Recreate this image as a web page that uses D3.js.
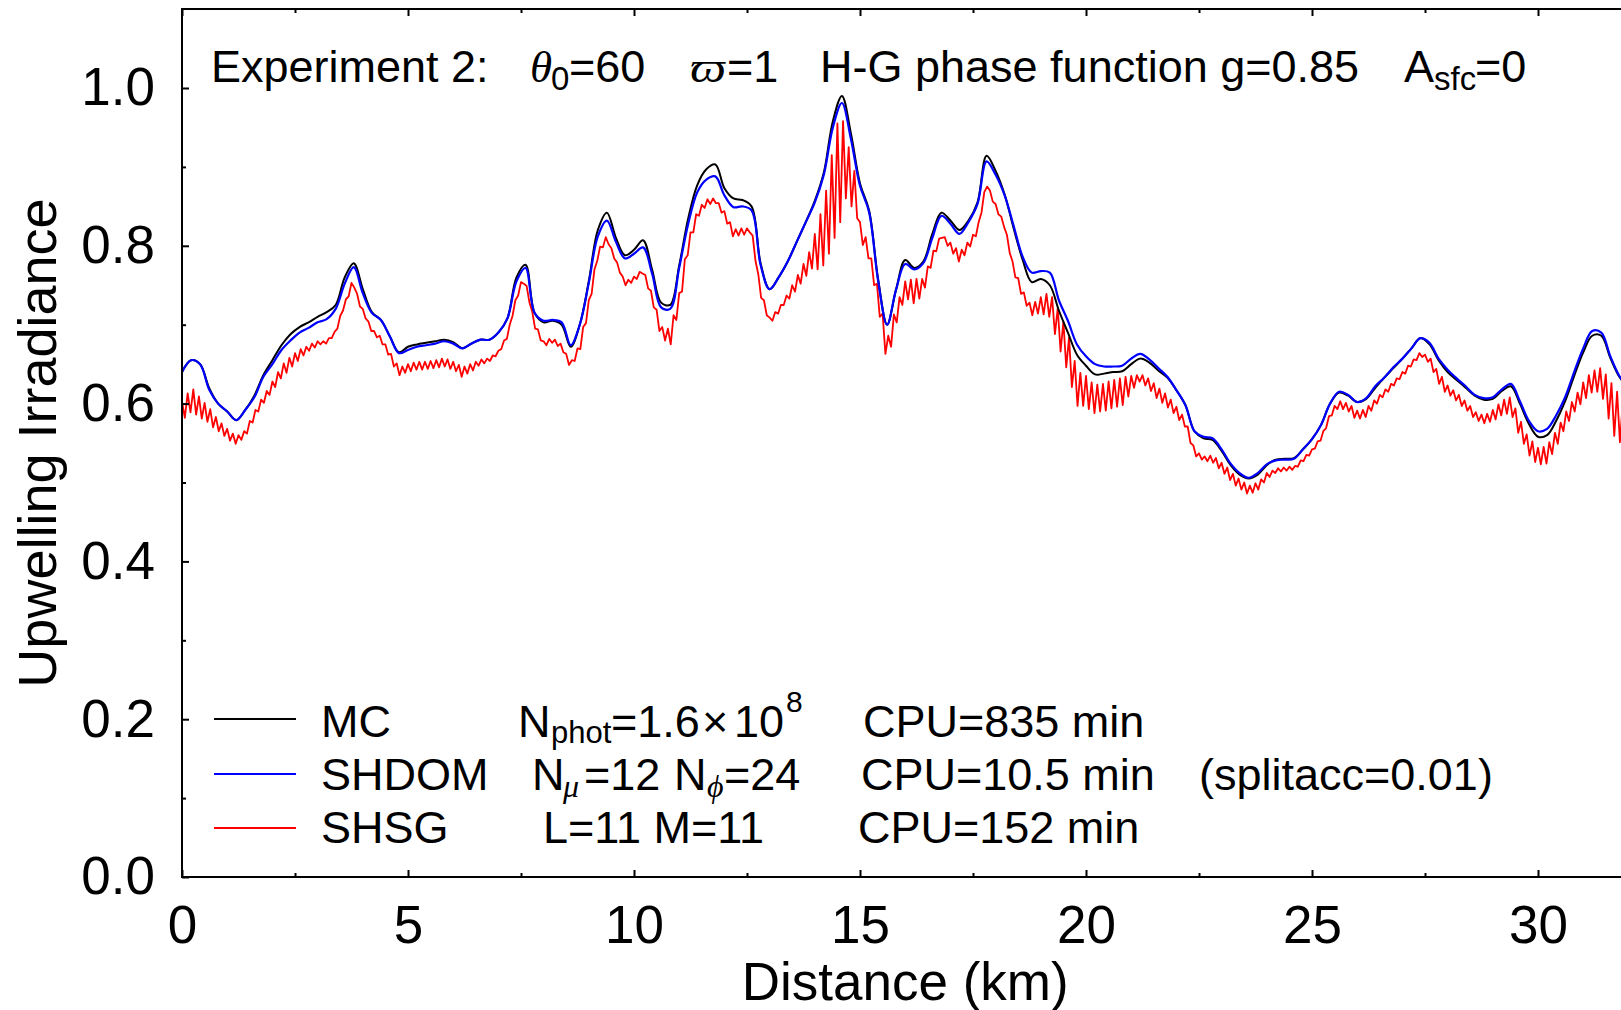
<!DOCTYPE html>
<html>
<head>
<meta charset="utf-8">
<script src="https://cdn.jsdelivr.net/npm/d3@7"></script>
<style>
html,body{margin:0;padding:0;background:#fff;}
svg{display:block;}
text{font-family:"Liberation Sans",Arial,Helvetica,sans-serif;fill:#000;}
.greek{font-family:"Liberation Serif","DejaVu Serif","Times New Roman",serif;font-style:italic;}
</style>
</head>
<body>
<svg id="chart" width="1621" height="1010"></svg>
<script>
// ---------------- DATA ----------------
// MC and SHDOM sampled every 0.2 km (0..32 km); SHSG every 1/16 km (0..32 km).
const distanceKm = d3.range(161).map(i => Math.round(i * 2) / 10);
const distanceShsgKm = d3.range(513).map(i => i / 16);

const mcIrradiance = [
  .640,.655,.650,.620,.600,.590,.579,.592,.610,.636,
  .655,.674,.688,.697,.703,.710,.716,.725,.760,.778,
  .745,.716,.706,.685,.665,.672,.675,.677,.679,.681,
  .678,.670,.676,.681,.681,.690,.708,.760,.776,.715,
  .703,.705,.700,.672,.700,.755,.820,.842,.810,.788,
  .795,.807,.770,.728,.725,.775,.835,.877,.897,.903,
  .873,.860,.858,.850,.778,.745,.760,.780,.805,.830,
  .857,.893,.958,.990,.942,.879,.845,.758,.700,.745,
  .782,.772,.780,.815,.842,.832,.820,.832,.855,.914,
  .895,.865,.822,.782,.754,.758,.750,.718,.690,.662,
  .648,.637,.638,.640,.641,.650,.657,.652,.642,.633,
  .617,.598,.565,.556,.554,.540,.522,.510,.505,.510,
  .522,.529,.530,.531,.542,.555,.573,.600,.614,.610,
  .602,.606,.620,.633,.645,.657,.670,.683,.675,.655,
  .640,.630,.620,.610,.605,.606,.616,.622,.600,.574,
  .558,.560,.578,.603,.635,.665,.686,.686,.658,.634,
  .620
];

const shdomIrradiance = [
  .640,.655,.650,.618,.600,.590,.579,.592,.608,.634,
  .650,.668,.680,.690,.696,.703,.707,.720,.752,.773,
  .740,.715,.706,.685,.664,.668,.672,.674,.676,.679,
  .676,.670,.676,.681,.681,.690,.708,.755,.772,.715,
  .705,.706,.703,.674,.700,.753,.812,.832,.805,.784,
  .790,.798,.765,.722,.720,.772,.828,.868,.884,.888,
  .864,.849,.850,.845,.776,.745,.760,.780,.805,.830,
  .855,.890,.950,.981,.935,.876,.843,.756,.700,.745,
  .777,.770,.778,.810,.838,.828,.815,.830,.853,.907,
  .890,.864,.825,.786,.766,.768,.766,.731,.705,.675,
  .660,.650,.647,.647,.648,.657,.663,.656,.645,.634,
  .617,.598,.565,.558,.556,.542,.524,.512,.506,.512,
  .523,.528,.529,.530,.542,.555,.573,.600,.615,.611,
  .602,.607,.622,.633,.646,.657,.670,.683,.677,.657,
  .643,.632,.622,.611,.607,.608,.618,.625,.603,.578,
  .565,.568,.585,.608,.640,.670,.692,.690,.660,.635,
  .620
];

const shsgIrradiance = [
  .603,.582,.613,.589,.618,.586,.609,.581,.601,.577,.593,.570,.583,.565,.575,.559,
  .568,.553,.562,.549,.560,.554,.565,.562,.578,.576,.592,.590,.605,.601,.616,.611,
  .628,.621,.640,.632,.651,.639,.658,.647,.664,.654,.669,.661,.672,.667,.676,.671,
  .679,.675,.679,.676,.683,.683,.691,.695,.711,.718,.732,.736,.753,.747,.739,.723,
  .720,.708,.704,.692,.692,.684,.686,.675,.675,.662,.663,.647,.651,.636,.647,.639,
  .650,.641,.652,.643,.653,.643,.653,.644,.654,.645,.655,.646,.657,.647,.656,.644,
  .653,.641,.649,.634,.647,.638,.650,.642,.653,.648,.656,.651,.657,.654,.661,.660,
  .667,.669,.680,.682,.700,.711,.731,.737,.754,.752,.749,.728,.716,.695,.694,.680,
  .679,.674,.682,.677,.681,.673,.676,.665,.663,.649,.655,.654,.670,.669,.697,.702,
  .731,.739,.770,.781,.799,.798,.811,.802,.797,.784,.779,.766,.761,.750,.757,.753,
  .761,.758,.767,.765,.763,.746,.743,.722,.719,.692,.697,.680,.695,.675,.712,.706,
  .740,.742,.783,.788,.817,.817,.840,.838,.852,.848,.859,.853,.860,.854,.854,.842,
  .844,.828,.830,.812,.821,.813,.822,.814,.822,.817,.813,.781,.764,.734,.731,.712,
  .709,.705,.716,.714,.725,.725,.737,.733,.750,.742,.763,.752,.777,.762,.792,.771,
  .815,.770,.840,.775,.870,.790,.915,.810,.955,.830,.958,.860,.925,.850,.895,.835,
  .830,.801,.811,.784,.784,.750,.752,.710,.714,.663,.686,.672,.713,.703,.735,.725,
  .755,.732,.757,.727,.758,.733,.758,.747,.774,.772,.794,.793,.809,.810,.811,.800,
  .804,.790,.797,.780,.795,.788,.804,.799,.814,.812,.830,.842,.868,.875,.870,.856,
  .853,.840,.837,.824,.814,.791,.780,.760,.759,.739,.741,.724,.728,.712,.729,.714,
  .735,.713,.739,.710,.735,.688,.721,.666,.704,.646,.684,.621,.654,.597,.639,.597,
  .635,.593,.627,.588,.624,.590,.625,.591,.628,.594,.630,.596,.632,.598,.634,.609,
  .635,.620,.636,.628,.636,.623,.632,.616,.626,.607,.619,.601,.613,.595,.605,.588,
  .596,.579,.586,.571,.571,.550,.547,.533,.537,.529,.533,.527,.534,.525,.531,.518,
  .525,.511,.519,.503,.511,.496,.505,.491,.500,.486,.496,.487,.499,.491,.504,.500,
  .512,.507,.515,.512,.518,.514,.519,.515,.520,.516,.521,.520,.528,.527,.535,.534,
  .542,.543,.552,.553,.565,.569,.584,.585,.597,.593,.603,.593,.601,.590,.597,.582,
  .591,.581,.592,.583,.597,.591,.604,.600,.611,.608,.618,.615,.625,.623,.632,.631,
  .640,.638,.648,.647,.656,.655,.664,.659,.662,.653,.657,.640,.644,.625,.634,.615,
  .623,.610,.617,.604,.611,.597,.604,.591,.597,.583,.589,.578,.586,.575,.587,.577,
  .592,.580,.599,.585,.605,.587,.608,.583,.594,.563,.577,.549,.561,.534,.552,.526,
  .544,.523,.545,.524,.551,.536,.563,.549,.576,.565,.590,.578,.602,.590,.614,.599,
  .627,.607,.636,.614,.642,.615,.645,.606,.637,.581,.626,.559,.615,.551,.601,.551,
  .590
];

const xTickValues = [0, 5, 10, 15, 20, 25, 30];
const xMinorTickValues = [2.5, 7.5, 12.5, 17.5, 22.5, 27.5, 32.5];
const yTickValues = [0, 0.2, 0.4, 0.6, 0.8, 1.0];
const yMinorTickValues = [0.1, 0.3, 0.5, 0.7, 0.9];

const seriesNames = ["MC", "SHDOM", "SHSG"];
const seriesColors = ["#000000", "#0000ff", "#ff0000"];

// ---------------- LAYOUT ----------------
const W = 1621, H = 1010;
const plotLeft = 182, plotBottom = 877, plotTop = 9;
const svg = d3.select("#chart");

const x = d3.scaleLinear().domain([0, 30]).range([plotLeft, 1538]);
const y = d3.scaleLinear().domain([0, 1]).range([plotBottom, 88]);

svg.append("defs").append("clipPath").attr("id", "plotclip")
  .append("rect").attr("x", plotLeft).attr("y", plotTop).attr("width", W - plotLeft).attr("height", plotBottom - plotTop);

// ---------------- LINES ----------------
const plot = svg.append("g").attr("clip-path", "url(#plotclip)");
const smoothLine = d3.line().x((d, i) => x(distanceKm[i])).y(d => y(d)).curve(d3.curveCatmullRom.alpha(0.5));
const rawLine = d3.line().x((d, i) => x(distanceShsgKm[i])).y(d => y(d));

plot.append("path").datum(shsgIrradiance).attr("d", rawLine)
  .attr("fill", "none").attr("stroke", seriesColors[2]).attr("stroke-width", 1.8).attr("stroke-linejoin", "round");
plot.append("path").datum(mcIrradiance).attr("d", smoothLine)
  .attr("fill", "none").attr("stroke", seriesColors[0]).attr("stroke-width", 2);
plot.append("path").datum(shdomIrradiance).attr("d", smoothLine)
  .attr("fill", "none").attr("stroke", seriesColors[1]).attr("stroke-width", 2.2);

// ---------------- AXES ----------------
function styleAxis(g) {
  g.select(".domain").remove();
  g.selectAll(".tick line").attr("stroke", "#000").attr("stroke-width", 2);
  g.selectAll(".tick text").attr("font-family", '"Liberation Sans",Arial,sans-serif').attr("font-size", 53).attr("fill", "#000");
}
svg.append("g").attr("transform", `translate(${plotLeft},0)`)
  .call(d3.axisLeft(y).tickValues(yTickValues).tickFormat(d3.format(".1f")).tickSizeInner(-7).tickSizeOuter(0).tickPadding(27))
  .call(styleAxis);
svg.append("g").attr("transform", `translate(${plotLeft},0)`)
  .call(d3.axisLeft(y).tickValues(yMinorTickValues).tickFormat("").tickSizeInner(-4).tickSizeOuter(0))
  .call(styleAxis);
svg.append("g").attr("transform", `translate(0,${plotBottom})`)
  .call(d3.axisBottom(x).tickValues(xTickValues).tickFormat(d3.format("d")).tickSizeInner(-7).tickSizeOuter(0).tickPadding(28))
  .call(styleAxis);
svg.append("g").attr("transform", `translate(0,${plotBottom})`)
  .call(d3.axisBottom(x).tickValues(xMinorTickValues).tickFormat("").tickSizeInner(-4).tickSizeOuter(0))
  .call(styleAxis);
svg.append("g").attr("transform", `translate(0,${plotTop})`)
  .call(d3.axisTop(x).tickValues(xTickValues).tickFormat("").tickSizeInner(-7).tickSizeOuter(0))
  .call(styleAxis);
svg.append("g").attr("transform", `translate(0,${plotTop})`)
  .call(d3.axisTop(x).tickValues(xMinorTickValues).tickFormat("").tickSizeInner(-4).tickSizeOuter(0))
  .call(styleAxis);

// frame
const frame = svg.append("g").attr("stroke", "#000").attr("stroke-width", 2).attr("fill", "none");
frame.append("line").attr("x1", plotLeft).attr("x2", plotLeft).attr("y1", plotTop).attr("y2", plotBottom + 1);
frame.append("line").attr("x1", plotLeft - 1).attr("x2", W).attr("y1", plotBottom).attr("y2", plotBottom);
frame.append("line").attr("x1", plotLeft - 1).attr("x2", W).attr("y1", plotTop).attr("y2", plotTop);

// axis titles
svg.append("text").attr("x", x(16)).attr("y", 1000).attr("text-anchor", "middle")
  .attr("font-size", 53).text("Distance (km)");
svg.append("text").attr("transform", "translate(56,443) rotate(-90)").attr("text-anchor", "middle")
  .attr("font-size", 54).text("Upwelling Irradiance");

// ---------------- ANNOTATION ----------------
const ann = svg.append("g").attr("font-size", 45);
const base = 82;
ann.append("text").attr("x", 211).attr("y", base).text("Experiment 2:");
ann.append("text").attr("class", "greek").attr("x", 530).attr("y", base).text("θ");
ann.append("text").attr("x", 551).attr("y", base + 8).attr("font-size", 33).text("0");
ann.append("text").attr("x", 569).attr("y", base).text("=60");
ann.append("text").attr("class", "greek").attr("x", 690).attr("y", base)
  .attr("textLength", 36).attr("lengthAdjust", "spacingAndGlyphs").text("ϖ");
ann.append("text").attr("x", 727).attr("y", base).text("=1");
ann.append("text").attr("x", 820).attr("y", base).text("H-G phase function g=0.85");
ann.append("text").attr("x", 1404).attr("y", base).text("A");
ann.append("text").attr("x", 1434).attr("y", base + 8).attr("font-size", 33).text("sfc");
ann.append("text").attr("x", 1475).attr("y", base).text("=0");

// ---------------- LEGEND ----------------
const leg = svg.append("g").attr("font-size", 45);
const rowLine = [719, 774, 828];
const rowBase = [737, 790, 843];
seriesNames.forEach((name, i) => {
  leg.append("line").attr("x1", 214).attr("x2", 296).attr("y1", rowLine[i]).attr("y2", rowLine[i])
    .attr("stroke", seriesColors[i]).attr("stroke-width", 2);
  leg.append("text").attr("x", 321).attr("y", rowBase[i]).text(name);
});
// row 1
leg.append("text").attr("x", 518).attr("y", rowBase[0]).text("N");
leg.append("text").attr("x", 551).attr("y", rowBase[0] + 6).attr("font-size", 31).text("phot");
leg.append("text").attr("x", 611).attr("y", rowBase[0]).text("=1.6");
leg.append("text").attr("x", 702).attr("y", rowBase[0]).text("×");
leg.append("text").attr("x", 734).attr("y", rowBase[0]).text("10");
leg.append("text").attr("x", 786).attr("y", rowBase[0] - 25).attr("font-size", 30).text("8");
leg.append("text").attr("x", 863).attr("y", rowBase[0]).text("CPU=835 min");
// row 2
leg.append("text").attr("x", 532).attr("y", rowBase[1]).text("N");
leg.append("text").attr("class", "greek").attr("x", 563).attr("y", rowBase[1] + 7).attr("font-size", 32).text("μ");
leg.append("text").attr("x", 584).attr("y", rowBase[1]).text("=12");
leg.append("text").attr("x", 674).attr("y", rowBase[1]).text("N");
leg.append("text").attr("class", "greek").attr("x", 707).attr("y", rowBase[1] + 7).attr("font-size", 32).text("ϕ");
leg.append("text").attr("x", 724).attr("y", rowBase[1]).text("=24");
leg.append("text").attr("x", 861).attr("y", rowBase[1]).text("CPU=10.5 min");
leg.append("text").attr("x", 1199).attr("y", rowBase[1]).text("(splitacc=0.01)");
// row 3
leg.append("text").attr("x", 543).attr("y", rowBase[2]).text("L=11 M=11");
leg.append("text").attr("x", 858).attr("y", rowBase[2]).text("CPU=152 min");
</script>
</body>
</html>
